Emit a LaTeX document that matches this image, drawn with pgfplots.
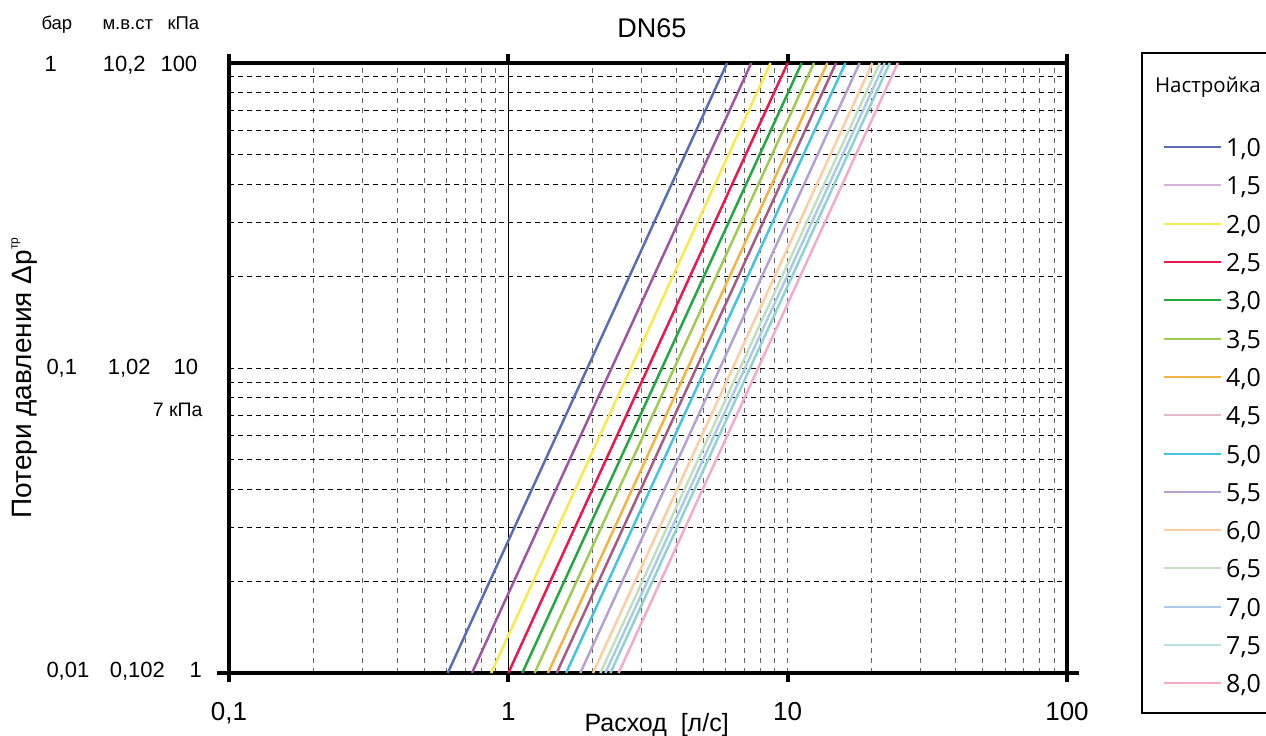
\documentclass[border=0pt]{standalone}
\usepackage{fontspec}
\setmainfont{Liberation Sans}
\newfontfamily\legfont{Open Sans}
\usepackage{pgfplots}
\pgfplotsset{compat=1.18}
\definecolor{c10}{HTML}{5A6DB4}
\definecolor{c15}{HTML}{A0559E}
\definecolor{c20}{HTML}{F6EA4C}
\definecolor{c25}{HTML}{E8194F}
\definecolor{c30}{HTML}{25A744}
\definecolor{c35}{HTML}{9FCB53}
\definecolor{c40}{HTML}{F0B545}
\definecolor{c45}{HTML}{A45C85}
\definecolor{c50}{HTML}{45C3E0}
\definecolor{c55}{HTML}{B4A2D0}
\definecolor{c60}{HTML}{FDCDA3}
\definecolor{c65}{HTML}{C3DFC0}
\definecolor{c70}{HTML}{A9CAEA}
\definecolor{c75}{HTML}{92D1D0}
\definecolor{c80}{HTML}{F4ABCA}
\definecolor{l15}{HTML}{D9B3D6}
\definecolor{l45}{HTML}{E3B9CC}
\definecolor{l75}{HTML}{B6E3E3}
\newcommand{\fs}[1]{\fontsize{#1}{#1}\selectfont}
\begin{document}
\begin{tikzpicture}
\begin{axis}[
  at={(0,0)}, anchor=south west,
  scale only axis, width=838bp, height=610bp,
  xmode=log, ymode=log,
  xmin=0.1, xmax=100, ymin=1, ymax=100,
  axis line style={line width=4bp},
  xtick={0.1,1,10,100}, xticklabels={{0,1},1,10,100},
  ytick={1,10,100}, yticklabels={},
  tick align=outside,
  x tick style={line width=4bp, black},
  y tick style={draw=none},
  major tick length=9bp,
  minor tick length=0pt,
  extra y ticks={1}, extra y tick labels={},
  extra y tick style={y tick style={draw=black, line width=4bp}, major tick length=12bp},
  xticklabel style={font=\fs{26bp}, anchor=north, text height=18.6bp, text depth=0pt, inner sep=0pt, yshift=-20bp},
  grid=both,
  x grid style={black!60, dash pattern=on 5bp off 5bp, line width=1bp},
  y grid style={black, dash pattern=on 5bp off 4bp, line width=0.9bp},
  clip=true,
  legend image code/.code={\draw[#1] (0bp,0bp) -- (57bp,0bp);},
  legend cell align=left,
  legend style={draw=none, fill=none, inner sep=0pt, at={(1.11456,0.87787)}, anchor=north west,
    row sep=19.3bp, /tikz/every odd column/.append style={column sep=4bp},
    nodes={inner sep=0pt, text height=19bp, text depth=0bp, font=\legfont\fs{25bp}}},
]
\addplot[black, line width=1bp, forget plot] coordinates {(1,1) (1,100)};
\addplot[c10, line width=2.5bp, forget plot] coordinates {(0.607,1) (6.07,100)};
\addplot[c15, line width=2.5bp, forget plot] coordinates {(0.741,1) (7.41,100)};
\addplot[c20, line width=2.5bp, forget plot] coordinates {(0.868,1) (8.68,100)};
\addplot[c25, line width=2.5bp, forget plot] coordinates {(1.0,1) (10.0,100)};
\addplot[c30, line width=2.5bp, forget plot] coordinates {(1.122,1) (11.22,100)};
\addplot[c35, line width=2.5bp, forget plot] coordinates {(1.242,1) (12.42,100)};
\addplot[c40, line width=2.5bp, forget plot] coordinates {(1.387,1) (13.87,100)};
\addplot[c45, line width=2.5bp, forget plot] coordinates {(1.49,1) (14.9,100)};
\addplot[c50, line width=2.5bp, forget plot] coordinates {(1.61,1) (16.1,100)};
\addplot[c55, line width=2.5bp, forget plot] coordinates {(1.81,1) (18.1,100)};
\addplot[c60, line width=2.5bp, forget plot] coordinates {(2.01,1) (20.1,100)};
\addplot[c65, line width=2.5bp, forget plot] coordinates {(2.136,1) (21.36,100)};
\addplot[c70, line width=2.5bp, forget plot] coordinates {(2.225,1) (22.25,100)};
\addplot[c75, line width=2.5bp, forget plot] coordinates {(2.32,1) (23.2,100)};
\addplot[c80, line width=2.5bp, forget plot] coordinates {(2.48,1) (24.8,100)};
\addlegendimage{c10, line width=2bp}\addlegendentry{1,0}
\addlegendimage{l15, line width=2bp}\addlegendentry{1,5}
\addlegendimage{c20, line width=2bp}\addlegendentry{2,0}
\addlegendimage{c25, line width=2bp}\addlegendentry{2,5}
\addlegendimage{c30, line width=2bp}\addlegendentry{3,0}
\addlegendimage{c35, line width=2bp}\addlegendentry{3,5}
\addlegendimage{c40, line width=2bp}\addlegendentry{4,0}
\addlegendimage{l45, line width=2bp}\addlegendentry{4,5}
\addlegendimage{c50, line width=2bp}\addlegendentry{5,0}
\addlegendimage{c55, line width=2bp}\addlegendentry{5,5}
\addlegendimage{c60, line width=2bp}\addlegendentry{6,0}
\addlegendimage{c65, line width=2bp}\addlegendentry{6,5}
\addlegendimage{c70, line width=2bp}\addlegendentry{7,0}
\addlegendimage{l75, line width=2bp}\addlegendentry{7,5}
\addlegendimage{c80, line width=2bp}\addlegendentry{8,0}
\end{axis}
% title and axis labels
\node[anchor=base, font=\fs{27bp}] at (423bp,635bp) {DN65};
\node[anchor=base west, font=\fs{25bp}] at (352bp,-58.7bp) {Расход\ \ [л/с]};
\node[anchor=base west, rotate=90, font=\fs{28bp}] at (-197bp,151bp) {Потери давления Δp\raisebox{14bp}{\fs{12bp}тр}};
% left scale columns
\node[anchor=base west, font=\fs{18.5bp}] at (-191bp,643bp) {бар};
\node[anchor=base west, font=\fs{18.5bp}] at (-130bp,643bp) {м.в.ст};
\node[anchor=base west, font=\fs{18.5bp}] at (-65bp,643bp) {кПа};
\node[anchor=base west, font=\fs{22bp}] at (-188bp,601bp) {1};
\node[anchor=base west, font=\fs{22bp}] at (-129.7bp,601bp) {10,2};
\node[anchor=base west, font=\fs{22bp}] at (-72bp,601bp) {100};
\node[anchor=base west, font=\fs{22bp}] at (-186bp,298bp) {0,1};
\node[anchor=base west, font=\fs{22bp}] at (-124.7bp,298bp) {1,02};
\node[anchor=base west, font=\fs{22bp}] at (-59bp,298bp) {10};
\node[anchor=base east, font=\fs{19.5bp}] at (-23bp,256bp) {7 кПа};
\node[anchor=base west, font=\fs{22bp}] at (-186bp,-4bp) {0,01};
\node[anchor=base west, font=\fs{22bp}] at (-122.7bp,-4bp) {0,102};
\node[anchor=base west, font=\fs{22bp}] at (-43bp,-4bp) {1};
% legend frame and title
\draw[line width=2bp] (912.7bp,620bp) rectangle (1085bp,-39.7bp);
\node[anchor=base west, font=\legfont\fs{20.5bp}] at (922.5bp,580bp) {Настройка};
\pgfresetboundingbox
\useasboundingbox (-229bp,-63bp) rectangle (1037bp,673bp);
\end{tikzpicture}
\end{document}
